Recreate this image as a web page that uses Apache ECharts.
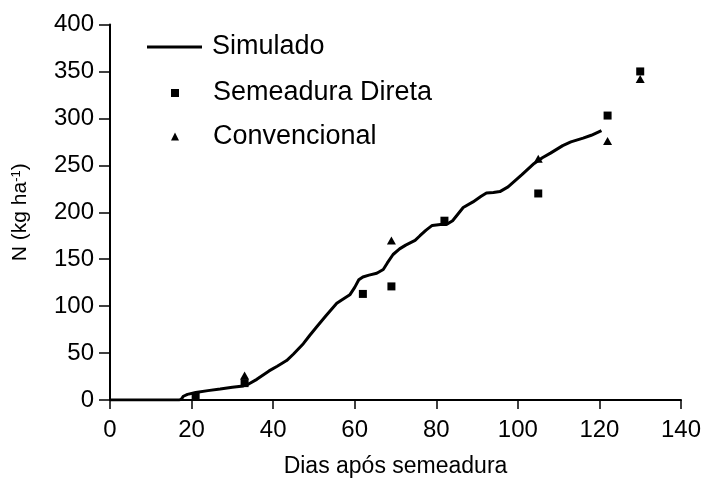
<!DOCTYPE html>
<html>
<head>
<meta charset="utf-8">
<script src="https://cdn.jsdelivr.net/npm/echarts@6/dist/echarts.min.js"></script>
<style>
  html, body { margin: 0; padding: 0; background: #fff; }
  #chart { width: 704px; height: 479px; }
</style>
</head>
<body>
<div id="chart"></div>
<script>
// Simulated N uptake (kg/ha) against days after sowing
const simDays = [0, 17, 17.5, 18, 19, 21, 24, 27, 30, 32.7, 34, 36, 39, 41, 43.3, 45, 47.4, 49, 50.7, 53, 55.6, 57, 58.8, 60, 61, 62, 63.5, 65.4, 67, 68, 69.4, 71, 72.5, 74.8, 76, 77.5, 79, 81, 82.5, 84, 86.6, 89, 91, 92.3, 94, 95.6, 97.6, 101, 104, 106, 108, 111, 113, 116, 118, 120.5];
const simN    = [0, 0, 1, 4, 6, 8, 10, 11.7, 13.5, 15, 17, 22, 31, 36, 42, 49, 60, 69, 78, 90, 103, 107, 112, 120, 128, 131, 133, 135, 139, 146, 155, 161, 165, 170, 175, 181, 186, 187, 187, 191, 205, 211, 217, 220.5, 221, 222, 227, 240, 252, 258, 263, 271, 275, 279, 282, 287];

// Observed values, no-till (Semeadura Direta)
const sdDays = [21, 33, 62, 69, 82, 105, 122, 130];
const sdN    = [4, 18, 113, 121, 191, 220, 303, 350];

// Observed values, conventional tillage
const cvDays = [33, 69, 105, 122, 130];
const cvN    = [26, 170, 257, 276, 342];

const xTicks = [0, 20, 40, 60, 80, 100, 120, 140];
const yTicks = [0, 50, 100, 150, 200, 250, 300, 350, 400];

const FONT = '"Liberation Sans", Arial, Helvetica, sans-serif';

const zip = (a, b) => a.map((v, i) => [v, b[i]]);

const chart = echarts.init(document.getElementById('chart'), null, { renderer: 'canvas' });

chart.setOption({
  animation: false,
  backgroundColor: '#ffffff',
  textStyle: { fontFamily: FONT, color: '#000' },
  grid: { left: 110, right: 23, top: 24.5, bottom: 79, containLabel: false, outerBoundsMode: 'none' },
  legend: [
    {
      data: ['Simulado'],
      left: 142,
      top: 27,
      itemWidth: 55,
      itemHeight: 14,
      icon: 'path://M0,0H55V3H0Z',
      itemStyle: { color: '#000' },
      textStyle: { fontFamily: FONT, fontSize: 27, color: '#000', lineHeight: 30, padding: [0, 0, 0, 5] },
      selectedMode: false
    },
    {
      data: ['Semeadura Direta', 'Convencional'],
      orient: 'vertical',
      left: 166,
      top: 73,
      itemWidth: 8,
      itemHeight: 8,
      itemGap: 13.5,
      textStyle: { fontFamily: FONT, fontSize: 27, color: '#000', lineHeight: 30, padding: [0, 0, 0, 29] },
      selectedMode: false
    }
  ],
  xAxis: {
    type: 'value',
    min: 0,
    max: 140,
    interval: 20,
    name: 'Dias após semeadura',
    nameLocation: 'middle',
    nameGap: 55,
    nameTextStyle: { fontFamily: FONT, fontSize: 23, color: '#000' },
    axisLine: { show: true, onZero: false, lineStyle: { color: '#000', width: 2 } },
    axisTick: { show: true, inside: false, length: 9, lineStyle: { color: '#000', width: 1.5 } },
    axisLabel: {
      color: '#000', fontFamily: FONT, fontSize: 24, margin: 18,
      formatter: v => (xTicks.includes(v) ? String(v) : '')
    },
    splitLine: { show: false }
  },
  yAxis: {
    type: 'value',
    min: 0,
    max: 400,
    interval: 50,
    name: 'N (kg ha{sup|-1})',
    nameLocation: 'middle',
    nameRotate: 90,
    nameGap: 79,
    nameTextStyle: {
      fontFamily: FONT, fontSize: 21, color: '#000',
      rich: {
        sup: { fontFamily: FONT, fontSize: 13, color: '#000', verticalAlign: 'top', padding: [0, 0, 8, 0] }
      }
    },
    axisLine: { show: true, lineStyle: { color: '#000', width: 2 } },
    axisTick: { show: true, inside: false, length: 11, lineStyle: { color: '#000', width: 1.5 } },
    axisLabel: {
      color: '#000', fontFamily: FONT, fontSize: 24, margin: 16,
      formatter: v => (yTicks.includes(v) ? String(v) : '')
    },
    splitLine: { show: false }
  },
  series: [
    {
      name: 'Simulado',
      type: 'line',
      data: zip(simDays, simN),
      symbol: 'none',
      showSymbol: false,
      smooth: false,
      lineStyle: { color: '#000', width: 3 },
      itemStyle: { color: '#000' },
      z: 2
    },
    {
      name: 'Semeadura Direta',
      type: 'scatter',
      data: zip(sdDays, sdN),
      symbol: 'rect',
      symbolSize: 8,
      itemStyle: { color: '#000', opacity: 1 },
      z: 3
    },
    {
      name: 'Convencional',
      type: 'scatter',
      data: zip(cvDays, cvN),
      symbol: 'triangle',
      symbolSize: [9, 8],
      itemStyle: { color: '#000', opacity: 1 },
      z: 3
    }
  ]
});
</script>
</body>
</html>
